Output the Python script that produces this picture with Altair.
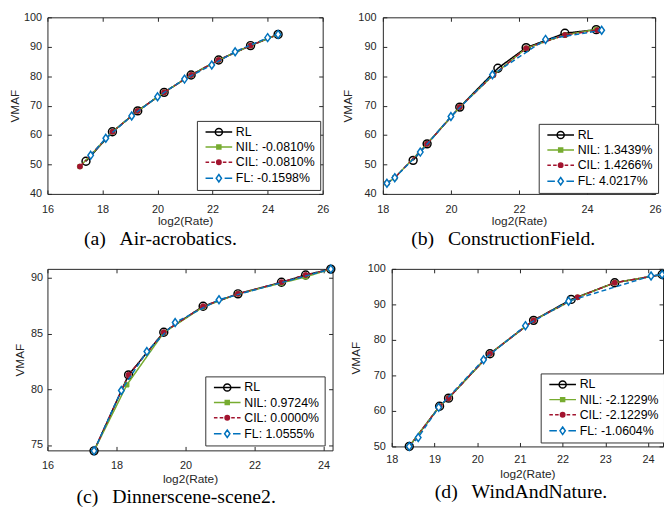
import altair as alt
import pandas as pd

SERIES_KEYS = ["RL", "NIL", "CIL", "FL"]

# ---------------- data ----------------
A_LABELS = ["RL", "NIL: -0.0810%", "CIL: -0.0810%", "FL: -0.1598%"]
A_RL_X = [17.40, 18.36, 19.28, 20.24, 21.22, 22.22, 23.38, 24.38]
A_RL_Y = [51.1, 61.1, 68.2, 74.5, 80.4, 85.5, 90.4, 94.2]
A_NIL_X = [17.18, 18.36, 19.28, 20.24, 21.22, 22.22, 23.38, 24.38]
A_NIL_Y = [49.3, 61.1, 68.2, 74.5, 80.4, 85.5, 90.4, 94.2]
A_CIL_X = [17.18, 18.36, 19.28, 20.24, 21.22, 22.22, 23.38, 24.38]
A_CIL_Y = [49.3, 61.1, 68.2, 74.5, 80.4, 85.5, 90.4, 94.2]
A_FL_X = [17.57, 18.12, 19.06, 20.00, 20.98, 21.97, 22.82, 24.00, 24.38]
A_FL_Y = [53.1, 58.9, 66.5, 73.0, 79.0, 83.8, 88.3, 93.1, 94.2]

B_LABELS = ["RL", "NIL: 1.3439%", "CIL: 1.4266%", "FL: 4.0217%"]
B_RL_X = [18.89, 19.30, 20.26, 21.38, 22.21, 23.35, 24.27]
B_RL_Y = [51.4, 57.0, 69.5, 82.7, 89.7, 94.6, 95.8]
B_NIL_X = [18.12, 18.35, 19.30, 20.26, 21.25, 22.21, 23.35, 24.27]
B_NIL_Y = [43.6, 45.5, 57.0, 69.5, 80.4, 89.5, 94.0, 95.9]
B_CIL_X = [18.12, 18.35, 19.30, 20.26, 21.25, 22.21, 23.35, 24.30]
B_CIL_Y = [43.6, 45.5, 57.0, 69.5, 80.4, 89.5, 94.0, 95.6]
B_FL_X = [18.12, 18.35, 19.10, 20.00, 21.22, 22.78, 24.43]
B_FL_Y = [43.6, 45.5, 54.2, 66.3, 80.5, 92.5, 95.6]

C_LABELS = ["RL", "NIL: 0.9724%", "CIL: 0.0000%", "FL: 1.0555%"]
C_RL_X = [17.35, 18.35, 19.37, 20.51, 21.52, 22.78, 23.48, 24.21]
C_RL_Y = [74.48, 81.3, 85.13, 87.46, 88.58, 89.62, 90.27, 90.8]
C_NIL_X = [17.35, 18.30, 19.37, 20.51, 21.52, 22.78, 23.48, 24.21]
C_NIL_Y = [74.48, 80.4, 85.1, 87.4, 88.58, 89.55, 90.1, 90.8]
C_CIL_X = [17.35, 18.35, 19.37, 20.51, 21.52, 22.78, 23.48, 24.21]
C_CIL_Y = [74.48, 81.3, 85.13, 87.46, 88.58, 89.62, 90.27, 90.8]
C_FL_X = [17.35, 18.14, 18.88, 19.70, 20.97, 24.21]
C_FL_Y = [74.48, 79.9, 83.4, 86.0, 88.05, 90.8]

D_LABELS = ["RL", "NIL: -2.1229%", "CIL: -2.1229%", "FL: -1.0604%"]
D_RL_X = [18.41, 19.12, 19.33, 20.30, 21.32, 22.20, 23.22, 24.33]
D_RL_Y = [50.0, 61.3, 63.6, 76.1, 85.5, 91.4, 96.1, 98.4]
D_NIL_X = [18.41, 19.12, 19.33, 20.30, 21.32, 22.35, 23.22, 24.33]
D_NIL_Y = [50.0, 61.3, 63.6, 76.1, 85.5, 92.0, 96.1, 98.4]
D_CIL_X = [18.41, 19.12, 19.33, 20.30, 21.32, 22.35, 23.22, 24.33]
D_CIL_Y = [50.0, 61.3, 63.6, 76.1, 85.5, 92.0, 96.1, 98.4]
D_FL_X = [18.41, 18.62, 19.10, 20.15, 21.13, 22.14, 24.07, 24.33]
D_FL_Y = [50.0, 52.5, 61.0, 74.4, 84.0, 90.9, 98.0, 98.4]

# ---------------- styles ----------------
COLORS = ["#000000", "#77AC30", "#A2142F", "#0072BD"]
DASHES = [[1, 0], [1, 0], [5, 2.5, 1.5, 2.5], [5, 3]]
PT_SHAPE = ["circle", "square", "circle", "M0,-1L0.7,0L0,1L-0.7,0Z"]
PT_FILL = ["transparent", "#77AC30", "#A2142F", "white"]
PT_SIZE = [64, 18, 26, 64]
PT_SW = [1.5, 1, 1, 1.5]
LEG_PATHS = [
    "M-3,0H3M0.8,0A0.8,0.8 0 1,1 -0.8,0A0.8,0.8 0 1,1 0.8,0Z",
    "M-3,0H3M-0.45,-0.45H0.45V0.45H-0.45Z",
    "M-3,0H-2.2M-1.7,0H-0.9M0.9,0H1.7M2.2,0H3M0.5,0A0.5,0.5 0 1,1 -0.5,0A0.5,0.5 0 1,1 0.5,0Z",
    "M-3,0H-1.3M1.3,0H3M0,-0.85L0.6,0L0,0.85L-0.6,0Z",
]

AX_COLOR = "#262626"
SANS = "Liberation Sans"
SERIF = "Liberation Serif"


def build_df(labels, xs, ys):
    rows = []
    for k, (lab, xv, yv) in enumerate(zip(labels, xs, ys)):
        for i, (a, b) in enumerate(zip(xv, yv)):
            rows.append(dict(s=lab, k=k, i=i, x=a, y=b))
    return pd.DataFrame(rows)


def panel(df, labels, xdom, xticks, ydom, yticks, w, h, caption, legxy, cap_dx,
          ylp, ytp, xlp, xtp, cap_off=2.5, top_pad=None):
    xscale = alt.Scale(domain=xdom, nice=False, zero=False)
    yscale = alt.Scale(domain=ydom, nice=False, zero=False)
    xaxis = alt.Axis(values=xticks, title="log2(Rate)", orient="bottom", offset=-4,
                     tickSize=4, domain=False, grid=False, labelFlush=False,
                     labelPadding=xlp, titlePadding=xtp, format="d")
    yaxis = alt.Axis(values=yticks, title="VMAF", orient="left", offset=-4,
                     tickSize=4, domain=False, grid=False, labelPadding=ylp,
                     titlePadding=ytp, format="d")

    layers = []
    for k in range(4):
        first = k == 0
        ln = alt.Chart(df).transform_filter(f"datum.k == {k}").mark_line(
            color=COLORS[k], strokeDash=DASHES[k], strokeWidth=1.5).encode(
            x=alt.X("x:Q", scale=xscale, axis=xaxis if first else None),
            y=alt.Y("y:Q", scale=yscale, axis=yaxis if first else None),
            order=alt.Order("i:Q"),
        )
        pt = alt.Chart(df).transform_filter(f"datum.k == {k}").mark_point(
            shape=PT_SHAPE[k], stroke=COLORS[k], fill=PT_FILL[k], size=PT_SIZE[k],
            strokeWidth=PT_SW[k], opacity=1, filled=False).encode(
            x=alt.X("x:Q", axis=None),
            y=alt.Y("y:Q", axis=None),
        )
        layers += [ln, pt]

    top_kw = dict(values=xticks, orient="top", labels=False, domain=False, grid=False,
                  tickSize=4, offset=-4)
    if top_pad is None:
        top_kw["title"] = None
    else:
        top_kw.update(title="x", titleOpacity=0, titleFontSize=8, titlePadding=top_pad)
    frame = alt.Chart(df).mark_point(opacity=0).encode(
        x=alt.X("x:Q", axis=alt.Axis(**top_kw)),
        y=alt.Y("y:Q", axis=alt.Axis(values=yticks, orient="right", labels=False, title=None,
                                     domain=False, grid=False, tickSize=4, offset=-4)),
    )

    def legend():
        return alt.Legend(
            title=None, orient="none", legendX=legxy[0], legendY=legxy[1],
            symbolSize=81, symbolStrokeWidth=1.5, symbolOpacity=1, labelFont=SANS,
            labelFontSize=12.5, labelColor="black", padding=5, rowPadding=2.3,
            labelOffset=11, symbolOffset=11, strokeColor="#333333", fillColor="white",
        )

    leg = alt.Chart(df).transform_filter("datum.k < 0").mark_point(
        opacity=1, filled=False, size=81, strokeWidth=1.5).encode(
        x=alt.X("x:Q", axis=None),
        y=alt.Y("y:Q", axis=None),
        shape=alt.Shape("s:N", scale=alt.Scale(domain=labels, range=LEG_PATHS), legend=legend()),
        stroke=alt.Stroke("s:N", scale=alt.Scale(domain=labels, range=COLORS), legend=legend()),
        fill=alt.Fill("s:N", scale=alt.Scale(domain=labels, range=PT_FILL), legend=legend()),
    )
    layers += [frame, leg]
    return alt.layer(*layers).resolve_axis(x="independent", y="independent").properties(
        width=w, height=h,
        title=alt.TitleParams(caption, orient="bottom", font=SERIF, fontSize=20,
                              fontWeight="normal", color="black", frame="group",
                              dx=cap_dx, offset=cap_off),
    )


dfa = build_df(A_LABELS, [A_RL_X, A_NIL_X, A_CIL_X, A_FL_X], [A_RL_Y, A_NIL_Y, A_CIL_Y, A_FL_Y])
dfb = build_df(B_LABELS, [B_RL_X, B_NIL_X, B_CIL_X, B_FL_X], [B_RL_Y, B_NIL_Y, B_CIL_Y, B_FL_Y])
dfc = build_df(C_LABELS, [C_RL_X, C_NIL_X, C_CIL_X, C_FL_X], [C_RL_Y, C_NIL_Y, C_CIL_Y, C_FL_Y])
dfd = build_df(D_LABELS, [D_RL_X, D_NIL_X, D_CIL_X, D_FL_X], [D_RL_Y, D_NIL_Y, D_CIL_Y, D_FL_Y])

GAP = "\u2002\u2009"
pa = panel(dfa, A_LABELS, [16, 26], [16, 18, 20, 22, 24, 26], [40, 100],
           [40, 50, 60, 70, 80, 90, 100], 279, 179, "(a)" + GAP + "Air-acrobatics.",
           (151.5, 105), -25, 6, 2.5, 9.5, 2)
pb = panel(dfb, B_LABELS, [18, 26], [18, 20, 22, 24, 26], [40, 100],
           [40, 50, 60, 70, 80, 90, 100], 276, 179, "(b)" + GAP + "ConstructionField.",
           (158, 108), -16, 7, 3.5, 9.5, 2)
pc = panel(dfc, C_LABELS, [16, 24.26], [16, 18, 20, 22, 24], [74.52, 90.82],
           [75, 80, 85, 90], 289, 184, "(c)" + GAP + "Dinnerscene-scene2.",
           (160, 109), -14, 5, 4, 9.5, 3.5)
pd_ = panel(dfd, D_LABELS, [18, 24.35], [18, 19, 20, 21, 22, 23, 24], [50, 100],
            [50, 60, 70, 80, 90, 100], 275, 180, "(d)" + GAP + "WindAndNature.",
            (151, 106), -6.5, 6.5, 5, 7, 4.5, top_pad=1.5)

RES = dict(x="independent", y="independent", shape="independent", stroke="independent",
           fill="independent")
LRES = dict(shape="independent", stroke="independent", fill="independent")

row1 = alt.hconcat(pa, pb, spacing=11).resolve_scale(**RES).resolve_legend(**LRES)
row2 = alt.hconcat(pc, pd_, spacing=10).resolve_scale(**RES).resolve_legend(**LRES)

chart = alt.vconcat(row1, row2, spacing=8).resolve_scale(**RES).resolve_legend(
    **LRES).properties(padding={"left": -1, "top": -1, "right": -6, "bottom": 0}).configure_view(
    stroke=AX_COLOR, strokeWidth=1).configure_axis(
    labelFont=SANS, labelFontSize=11, labelColor=AX_COLOR, titleFont=SANS,
    titleFontSize=12, titleFontWeight="normal", titleColor=AX_COLOR,
    tickColor=AX_COLOR, tickWidth=1).configure_legend(strokeWidth=1)

chart.save("out.html", embed_options={"renderer": "svg", "actions": False})
